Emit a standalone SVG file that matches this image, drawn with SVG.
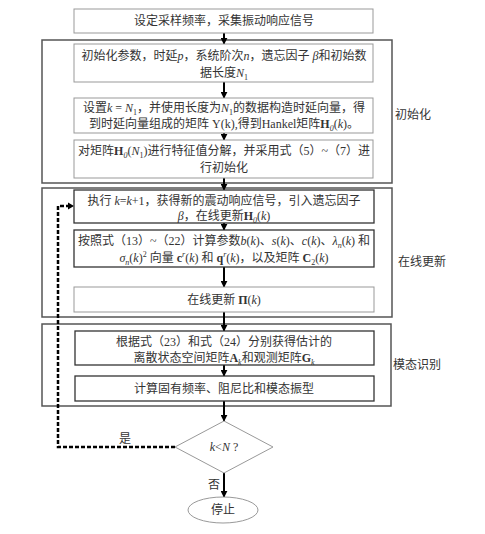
<svg xmlns="http://www.w3.org/2000/svg" width="485" height="534" viewBox="0 0 485 534">
<defs>
<marker id="ahs" viewBox="0 0 10 10" refX="9" refY="5" markerWidth="7" markerHeight="7" orient="auto" markerUnits="userSpaceOnUse">
<path d="M0,0 L10,5 L0,10 z" fill="#000"/>
</marker>
</defs>
<style>
text{font-family:"Liberation Serif","Noto Sans CJK SC",serif;font-size:12px;fill:#333;text-anchor:middle}
.lab{text-anchor:start}
.light{fill:#fff;stroke:#999;stroke-width:1}
.dark{fill:#fff;stroke:#333;stroke-width:1.3}
.grp{fill:none;stroke:#555;stroke-width:1.5}
.i{font-style:italic}
.b{font-weight:bold}
.arr{stroke:#000;stroke-width:2;fill:none;marker-end:url(#ahs)}
.dash{stroke:#000;stroke-width:2.5;fill:none;stroke-dasharray:4,2}
</style>
<rect width="485" height="534" fill="#fff"/>

<g id="groups">
<rect id="g-init" class="grp" x="42" y="40" width="350" height="143"/>
<rect id="g-update" class="grp" x="42" y="188" width="350" height="129"/>
<rect id="g-modal" class="grp" x="42" y="324" width="349" height="82"/>
<text class="lab" x="395" y="119">初始化</text>
<text class="lab" x="398" y="266">在线更新</text>
<text class="lab" x="393" y="369">模态识别</text>
</g>

<g id="connectors">
<line class="arr" x1="224" y1="33" x2="224" y2="44"/>
<line class="arr" x1="224" y1="82" x2="224" y2="98"/>
<line class="arr" x1="224" y1="133" x2="224" y2="140"/>
<line class="arr" x1="224" y1="178" x2="224" y2="190"/>
<line class="arr" x1="224" y1="223" x2="224" y2="230"/>
<line class="arr" x1="224" y1="267" x2="224" y2="287"/>
<line class="arr" x1="224" y1="312" x2="224" y2="331"/>
<line class="arr" x1="224" y1="365" x2="224" y2="376"/>
<line class="arr" x1="224" y1="401" x2="224" y2="421"/>
<line class="arr" x1="224" y1="473" x2="224" y2="497"/>
<polyline class="dash" points="175,447 58,447 58,206 68,206"/>
<path d="M68,202.5 L74,206 L68,209.5 z" fill="#000"/>
<text x="125" y="443">是</text>
<text x="214" y="489">否</text>
</g>

<g id="n-start">
<rect class="light" x="74" y="9" width="299" height="24"/>
<text x="224" y="25">设定采样频率，采集振动响应信号</text>
</g>

<g id="n-param">
<rect class="light" x="74" y="44" width="299" height="38"/>
<text x="224" y="60">初始化参数，时延<tspan class="i">p</tspan>，系统阶次<tspan class="i">n</tspan>，遗忘因子 <tspan class="i">β</tspan>和初始数</text>
<text x="224" y="77">据长度<tspan class="i">N</tspan><tspan font-size="8" dy="3">1</tspan></text>
</g>

<g id="n-set">
<rect class="light" x="74" y="98" width="299" height="35"/>
<text x="224" y="112">设置<tspan class="i">k</tspan> = <tspan class="i">N</tspan><tspan font-size="8" dy="3">1</tspan><tspan dy="-3">，并使用长度为</tspan><tspan class="i">N</tspan><tspan font-size="8" dy="3">1</tspan><tspan dy="-3">的数据构造时延向量，得</tspan></text>
<text x="224" y="128">到时延向量组成的矩阵 Y(k),得到Hankel矩阵<tspan class="b">H</tspan><tspan font-size="8" dy="3" class="i">0</tspan><tspan dy="-3">(</tspan><tspan class="i">k</tspan>)。</text>
</g>

<g id="n-eig">
<rect class="light" x="74" y="140" width="299" height="38"/>
<text x="224" y="155"><tspan>对矩阵</tspan><tspan class="b">H</tspan><tspan font-size="8" dy="3" class="i">0</tspan><tspan dy="-3">(</tspan><tspan class="i">N</tspan><tspan font-size="8" dy="3">1</tspan><tspan dy="-3">)进行特征值分解，并采用式（5）~（7）进</tspan></text>
<text x="224" y="172">行初始化</text>
</g>

<g id="n-exec">
<rect class="dark" x="74" y="190" width="300" height="33"/>
<text x="224" y="205">执行 <tspan class="i">k</tspan>=<tspan class="i">k</tspan>+1，获得新的震动响应信号，引入遗忘因子</text>
<text x="224" y="220"><tspan class="i">β</tspan>，在线更新<tspan class="b">H</tspan><tspan font-size="8" dy="3" class="i">0</tspan><tspan dy="-3">(</tspan><tspan class="i">k</tspan>)</text>
</g>

<g id="n-calc">
<rect class="dark" x="74" y="230" width="300" height="37"/>
<text x="224" y="245">按照式（13）~（22）计算参数<tspan class="i">b</tspan>(<tspan class="i">k</tspan>)、<tspan class="i">s</tspan>(<tspan class="i">k</tspan>)、<tspan class="i">c</tspan>(<tspan class="i">k</tspan>)、<tspan class="i">λ</tspan><tspan font-size="8" dy="3" class="i">n</tspan><tspan dy="-3">(</tspan><tspan class="i">k</tspan>) 和</text>
<text x="224" y="262"><tspan class="i">σ</tspan><tspan font-size="8" dy="3" class="i">n</tspan><tspan dy="-3">(</tspan><tspan class="i">k</tspan>)<tspan font-size="8" dy="-5">2</tspan><tspan dy="5"> 向量 </tspan><tspan class="b">c</tspan><tspan font-size="8" dy="-5" class="i">r</tspan><tspan dy="5">(</tspan><tspan class="i">k</tspan>) 和 <tspan class="b">q</tspan><tspan font-size="8" dy="-5" class="i">r</tspan><tspan dy="5">(</tspan><tspan class="i">k</tspan>)，以及矩阵 <tspan class="b">C</tspan><tspan font-size="8" dy="3">2</tspan><tspan dy="-3">(</tspan><tspan class="i">k</tspan>)</text>
</g>

<g id="n-pi">
<rect class="light" x="74" y="287" width="300" height="25"/>
<text x="224" y="304">在线更新 <tspan class="b">Π</tspan>(<tspan class="i">k</tspan>)</text>
</g>

<g id="n-est">
<rect class="dark" x="75" y="331" width="299" height="34"/>
<text x="224" y="346">根据式（23）和式（24）分别获得估计的</text>
<text x="224" y="362">离散状态空间矩阵<tspan class="b">A</tspan><tspan font-size="8" dy="3" class="i">k</tspan><tspan dy="-3">和观测矩阵</tspan><tspan class="b">G</tspan><tspan font-size="8" dy="3" class="i">k</tspan></text>
</g>

<g id="n-modal">
<rect class="dark" x="75" y="376" width="299" height="25"/>
<text x="224" y="393">计算固有频率、阻尼比和模态振型</text>
</g>

<g id="n-cond">
<polygon points="224,421 273,447 224,473 175,447" fill="#fff" stroke="#999" stroke-width="1"/>
<text x="224" y="451"><tspan class="i">k</tspan>&lt;<tspan class="i">N</tspan> ?</text>
</g>

<g id="n-stop">
<ellipse cx="223" cy="510" rx="35" ry="13" fill="#fff" stroke="#999" stroke-width="1"/>
<text x="223" y="514">停止</text>
</g>
</svg>
